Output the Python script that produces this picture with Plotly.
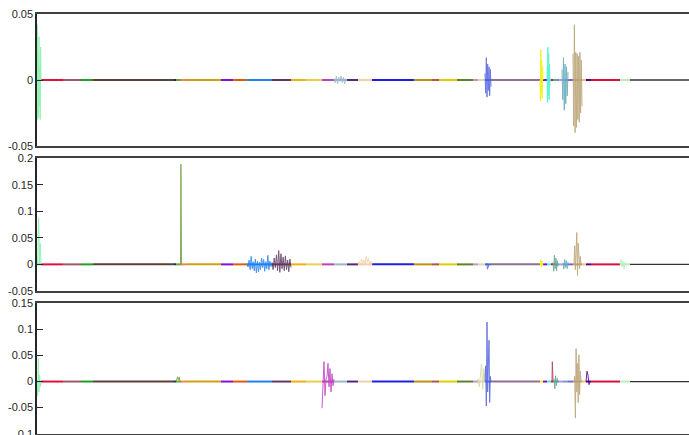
import numpy as np
import plotly.graph_objects as go
from plotly.subplots import make_subplots

# Segment boundaries along the time axis (sample units) and their colours
seg_bounds = [0, 4, 26, 44, 56, 137, 139, 144, 150, 184, 196, 210, 235, 254, 269, 285,
              297, 310, 321, 335, 377, 395, 402, 420, 436, 441, 448, 454, 503, 506, 510,
              514, 516, 522, 526, 531, 536, 545, 549, 554, 583, 593, 680]
seg_colors = ["#80f0a8", "#e0103c", "#a05868", "#20a020", "#5c4038", "#103050", "#70a040",
              "#f08848", "#d0a010", "#8010e0", "#e05a10", "#2080f0", "#603860", "#f0b010",
              "#e8d050", "#c040c0", "#98b8c8", "#502880", "#f0d0a8", "#2020e0", "#c09010",
              "#a85850", "#d8d000", "#608030", "#c890c8", "#d8d8b0", "#5060e0", "#907090",
              "#f0f000", "#9000f0", "#40f0d0", "#c02040", "#60a090", "#c090f0", "#60a8b8",
              "#8060e0", "#b8a070", "#f8c070", "#500090", "#d81040", "#b8f0b8", "#333333"]

# Bursts per panel: (start, end, colour, values)
panel1_bursts = [
    (0, 4, "#80f0a8", [0.005, 0.042, -0.03, 0.02, -0.028, 0.033, -0.02, 0.01, -0.03, 0.025, 0.0]),
    (297, 310, "#98b8c8", [0.001, -0.002, 0.003, -0.003, 0.002, -0.001, 0.003, -0.002, 0.002, -0.003, 0.001, -0.001]),
    (448, 454, "#5060e0", [0.005, -0.01, 0.017, -0.013, 0.012, -0.008, 0.01, -0.012, 0.008, -0.005]),
    (503, 506, "#f0f000", [0.0, -0.016, 0.023, -0.01, 0.015, -0.014, 0.01, 0.0]),
    (510, 513, "#40f0d0", [0.01, -0.017, 0.025, -0.012, 0.02, -0.015, 0.012, -0.005]),
    (525, 531, "#60a8b8", [0.008, -0.015, 0.017, -0.023, 0.012, -0.018, 0.01, -0.012, 0.006]),
    (536, 545, "#b8a070", [0.02, -0.035, 0.042, -0.04, 0.021, -0.036, 0.02, -0.03, 0.018, -0.032, 0.021, -0.025, 0.015, -0.02]),
]
panel2_bursts = [
    (0, 4, "#80f0a8", [0.015, 0.0, 0.088, 0.0, 0.04, 0.0]),
    (143.5, 144.5, "#70a040", [0.0, 0.189, 0.155, 0.0]),
    (210, 235, "#2080f0", [0.002, -0.005, 0.008, -0.01, 0.015, -0.008, 0.005, -0.012, 0.01, -0.016, 0.006, -0.014,
                           0.004, -0.01, 0.012, -0.006, 0.009, -0.013, 0.005, -0.008, 0.017, -0.01, 0.006, -0.004, 0.002]),
    (235, 254, "#603860", [0.004, -0.01, 0.012, -0.006, 0.018, -0.012, 0.026, -0.015, 0.02, -0.008, 0.014, -0.012,
                           0.016, -0.01, 0.008, -0.014, 0.01, -0.006]),
    (321, 335, "#f0d0a8", [0.0, 0.005, -0.002, 0.01, 0.002, 0.008, -0.001, 0.015, 0.004, 0.012, -0.002, 0.006, 0.0]),
    (449, 452, "#5060e0", [0.0, 0.002, -0.009, -0.004, 0.0]),
    (503, 506, "#f0f000", [0.0, 0.009, -0.005, 0.006, 0.0]),
    (516, 521, "#60a090", [0.004, -0.013, 0.017, -0.008, 0.012, -0.012, 0.007, -0.004]),
    (526, 531, "#60a8b8", [0.003, -0.009, 0.009, -0.006, 0.007, -0.008, 0.004]),
    (537, 544, "#b8a070", [0.0, 0.035, -0.01, 0.028, 0.06, -0.021, 0.04, 0.02, -0.008, 0.015, 0.0]),
    (583, 589, "#b8f0b8", [0.0, 0.009, -0.005, 0.007, -0.009, 0.004, 0.0]),
]
panel3_bursts = [
    (0, 4, "#80f0a8", [0.0, -0.027, 0.044, -0.02, 0.012, -0.01, 0.0]),
    (139, 143, "#70a040", [0.0, 0.004, 0.009, 0.003, 0.009, 0.0]),
    (285, 297, "#c040c0", [-0.051, 0.0, 0.038, -0.027, 0.005, 0.01, 0.035, -0.01, 0.025, -0.02, 0.015, -0.008, 0.005]),
    (440, 448, "#d8d8a0", [0.0, 0.005, -0.01, 0.015, 0.034, -0.015, 0.025, 0.0]),
    (448, 454, "#5060e0", [0.0, 0.03, -0.047, 0.114, -0.02, 0.04, 0.079, -0.04, 0.01, 0.0]),
    (515, 516, "#b03050", [0.0, 0.038, 0.02, 0.0]),
    (517, 521, "#60a090", [0.005, -0.014, 0.011, -0.008, 0.006, 0.0]),
    (537, 544, "#b8a070", [0.0, 0.01, -0.07, 0.063, -0.02, 0.035, -0.04, 0.051, -0.025, 0.02, 0.0]),
    (549, 553, "#500090", [0.0, 0.02, 0.012, -0.006, 0.0]),
]

y_ranges = [[-0.0502, 0.0502], [-0.0502, 0.2005], [-0.1005, 0.1505]]
y_ticks = [[-0.05, 0, 0.05],
           [-0.05, 0, 0.05, 0.1, 0.15, 0.2],
           [-0.1, -0.05, 0, 0.05, 0.1, 0.15]]
x_range = [0, 652]

W, H = 689, 435
mt, mb = 14, 0
ph = H - mt - mb
def dom(top_px, bot_px):
    return [max(0.0, (H - mb - bot_px) / ph), min(1.0, (H - mb - top_px) / ph)]

fig = make_subplots(rows=3, cols=1, shared_xaxes=False, vertical_spacing=0.02)

all_bursts = [panel1_bursts, panel2_bursts, panel3_bursts]
for r in range(3):
    for i, c in enumerate(seg_colors):
        x0, x1 = seg_bounds[i], seg_bounds[i + 1]
        w = 1.3 if i == len(seg_colors) - 1 else 2
        fig.add_trace(go.Scatter(x=[x0, x1], y=[0, 0], mode="lines",
                                 line=dict(color=c, width=w), hoverinfo="skip",
                                 showlegend=False), row=r + 1, col=1)
    for (s, e, c, vals) in all_bursts[r]:
        xs = np.linspace(s, e, len(vals))
        fig.add_trace(go.Scatter(x=xs, y=vals, mode="lines", opacity=0.85,
                                 line=dict(color=c, width=1), hoverinfo="skip",
                                 showlegend=False), row=r + 1, col=1)

domains = [dom(14, 146), dom(158, 291), dom(303, 434)]
for r in range(3):
    xa = "xaxis" if r == 0 else f"xaxis{r+1}"
    ya = "yaxis" if r == 0 else f"yaxis{r+1}"
    fig.layout[xa].update(range=x_range, showline=True, mirror=True, linecolor="#404040",
                          linewidth=1.5, ticks="", showticklabels=False, showgrid=False,
                          zeroline=False, domain=[0, 1], automargin=False)
    fig.layout[ya].update(range=y_ranges[r], tickvals=y_ticks[r],
                          ticktext=[("%g" % v) for v in y_ticks[r]],
                          showline=True, mirror=False, linecolor="#262626", linewidth=1.5,
                          ticks="inside", ticklen=6, tickwidth=1, tickcolor="#262626",
                          showgrid=False, zeroline=False, domain=domains[r], automargin=False,
                          ticklabeloverflow="allow",
                          tickfont=dict(family="Liberation Sans, Arial", size=11, color="#262626"))

fig.update_layout(width=W, height=H, margin=dict(l=37, r=0, t=mt, b=mb, autoexpand=False),
                  paper_bgcolor="white", plot_bgcolor="white", showlegend=False)

fig.write_html("out.html")
